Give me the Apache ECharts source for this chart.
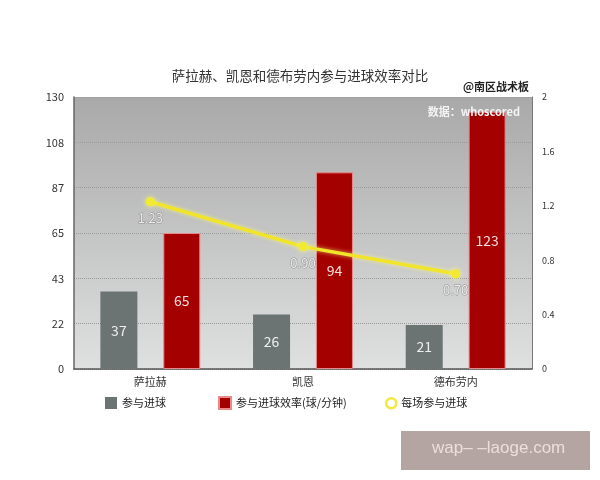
<!DOCTYPE html>
<html><head><meta charset="utf-8">
<script src="https://cdn.jsdelivr.net/npm/echarts@6/dist/echarts.min.js"></script>
<style>html,body{margin:0;padding:0;background:#fff}#c{width:600px;height:480px}</style>
</head><body><div id="c"></div>
<script>
const categories = ['萨拉赫', '凯恩', '德布劳内'];
const goalInvolvements = [37, 26, 21];
const efficiency = [65, 94, 123];
const perMatch = [1.23, 0.90, 0.70];
const leftTicks = [0, 22, 43, 65, 87, 108, 130];

const chart = echarts.init(document.getElementById('c'));
const font = '"Noto Sans CJK SC", "Noto Sans", sans-serif';
const legendText = { fontSize: 11, color: '#222', fontFamily: font };
chart.setOption({
  backgroundColor: '#ffffff',
  textStyle: { fontFamily: font },
  title: [{
    text: '萨拉赫、凯恩和德布劳内参与进球效率对比',
    left: 'center', top: 64,
    textStyle: { fontSize: 13.5, fontWeight: 'normal', color: '#333', fontFamily: font }
  }, {
    text: '@南区战术板', left: 458, top: 76,
    textStyle: { fontSize: 11, fontWeight: 'bold', color: '#222', fontFamily: font }
  }, {
    text: '数据：whoscored', right: 75, top: 101,
    textStyle: { fontSize: 11, fontWeight: 'bold', color: '#f4f4f4', fontFamily: font }
  }],
  grid: { left: 74, right: 68, top: 97, bottom: 111, show: true, borderWidth: 0,
    backgroundColor: new echarts.graphic.LinearGradient(0, 0, 0, 1, [
      { offset: 0, color: '#a8a9a8' }, { offset: 1, color: '#dfe0e0' }]) },
  legend: [{
    top: 391, left: 100, itemGap: 52, itemWidth: 12, itemHeight: 12,
    textStyle: legendText,
    data: [
      { name: '参与进球', icon: 'rect' },
      { name: '参与进球效率(球/分钟)', icon: 'rect' }
    ]
  }, {
    top: 392, left: 380, itemWidth: 10, itemHeight: 10,
    textStyle: legendText,
    data: [
      { name: '每场参与进球', icon: 'circle', itemStyle: { color: '#fff', borderColor: '#f2e93a', borderWidth: 2.5 } }
    ]
  }],
  xAxis: {
    type: 'category', data: categories,
    axisLine: { lineStyle: { color: '#555', width: 1.5 } },
    axisTick: { show: false },
    axisLabel: { color: '#333', fontSize: 11, margin: 7 }
  },
  yAxis: [{
    type: 'value', min: 0, max: 130, interval: 130 / 6,
    axisLine: { show: true, lineStyle: { color: '#666', width: 1.5 } },
    axisTick: { show: false },
    axisLabel: { color: '#333', fontSize: 11, margin: 10,
      formatter: v => String(leftTicks[Math.round(v / (130 / 6))]) },
    splitLine: { lineStyle: { color: '#999', type: 'dotted' } }
  }, {
    type: 'value', min: 0, max: 2, interval: 0.4,
    axisLine: { show: true, lineStyle: { color: '#777', width: 1 } },
    axisTick: { show: false },
    axisLabel: { color: '#333', fontSize: 9, margin: 10,
      formatter: v => String(+v.toFixed(1)) },
    splitLine: { show: false }
  }],
  series: [{
    name: '参与进球', type: 'bar', data: goalInvolvements,
    barWidth: 37, barGap: '70%',
    itemStyle: { color: '#6b7472' },
    label: { show: true, position: 'inside', color: '#eee', fontSize: 14 }
  }, {
    name: '参与进球效率(球/分钟)', type: 'bar', data: efficiency,
    barWidth: 37,
    itemStyle: { color: '#a50000', borderColor: '#e88a8a', borderWidth: 1 },
    label: { show: true, position: 'inside', color: '#f2dede', fontSize: 14 }
  }, {
    name: '每场参与进球', type: 'line', yAxisIndex: 1, data: perMatch,
    symbol: 'circle', symbolSize: 9,
    lineStyle: { color: '#f0e52a', width: 3.5, shadowColor: 'rgba(255,250,120,0.7)', shadowBlur: 4 },
    itemStyle: { color: '#f2ea30', shadowColor: 'rgba(255,250,120,0.9)', shadowBlur: 5 },
    label: { show: true, position: 'bottom', distance: 5, color: '#eaeaea', fontSize: 13,
      formatter: p => p.value.toFixed(2), textBorderColor: 'rgba(90,90,90,0.5)', textBorderWidth: 1 }
  }],
  graphic: [
    { type: 'rect', left: 401, top: 431, shape: { width: 189, height: 39 }, style: { fill: '#b5a5a2' }, z: 10 },
    { type: 'text', left: 432, top: 440, z: 11,
      style: { text: 'wap– –laoge.com', fill: '#ecdedb', fontSize: 17, fontFamily: 'Liberation Sans, sans-serif' } }
  ]
});
</script></body></html>
